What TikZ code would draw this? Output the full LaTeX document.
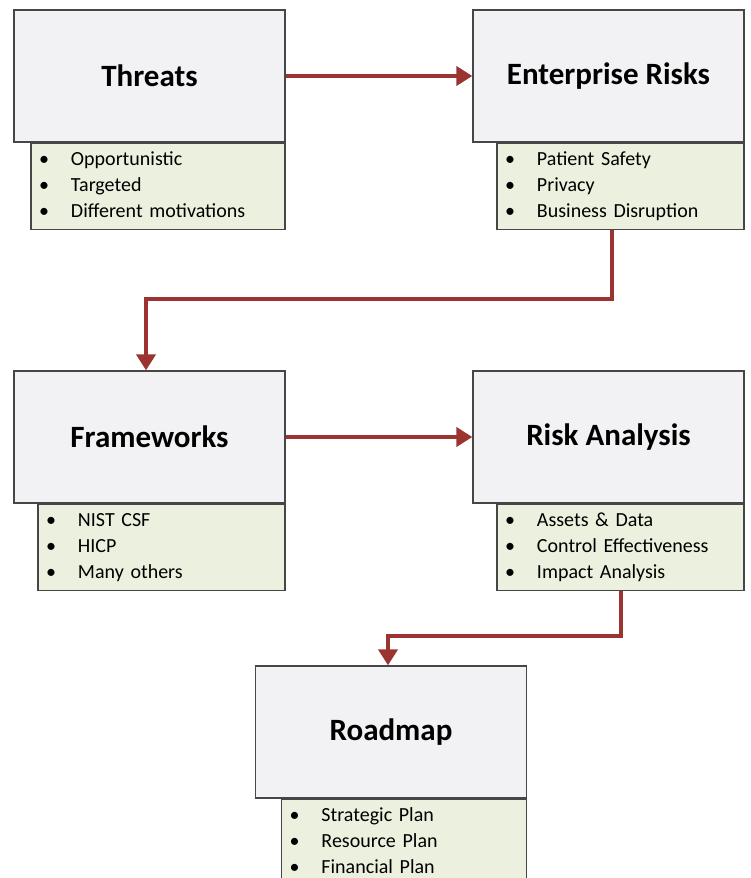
\documentclass[tikz,border=0pt]{standalone}
\usepackage{fontspec}
\setmainfont{Carlito}
\usepackage{xcolor}
\usetikzlibrary{arrows.meta,positioning}

\definecolor{boxgray}{RGB}{242,242,245}
\definecolor{listgreen}{RGB}{235,241,222}
\definecolor{edgegray}{RGB}{70,70,70}
\definecolor{flowred}{RGB}{155,52,48}

\tikzset{
  titlebox/.style={draw=edgegray, line width=1.3pt, fill=boxgray,
    minimum width=271pt, minimum height=132pt, inner sep=0pt,
    font=\fontsize{31}{36}\selectfont\bfseries},
  listbox/.style={draw=edgegray, line width=1.3pt, fill=listgreen,
    minimum height=86pt, inner xsep=8pt, inner ysep=0pt, anchor=north east,
    text width=231pt, align=left, font=\fontsize{20}{26}\selectfont},
  flow/.style={draw=flowred, line width=4pt, -{Triangle[length=16pt,width=19pt]}}
}

\newcommand{\itemlist}[3]{\begin{tabular}{@{}p{32pt}@{}l@{}}
  \textbullet & #1\\ \textbullet & #2\\ \textbullet & #3\end{tabular}}

\begin{document}
\begin{tikzpicture}[x=1pt,y=-1pt]
    \useasboundingbox (0,0) rectangle (751,878);

    % Threats
    \node[titlebox] (threats) at (149.5,76) {Threats};
    \node[listbox, text width=238pt] (threatslist) at (threats.south east)
      {\itemlist{Opportunistic}{Targeted}{Different motivations}};

    % Enterprise Risks
    \node[titlebox] (risks) at (608.5,76) {Enterprise Risks};
    \node[listbox] (riskslist) at (risks.south east)
      {\itemlist{Patient Safety}{Privacy}{Business Disruption}};

    % Frameworks
    \node[titlebox] (frameworks) at (149.5,437) {Frameworks};
    \node[listbox] (frameworkslist) at (frameworks.south east)
      {\itemlist{NIST CSF}{HICP}{Many others}};

    % Risk Analysis
    \node[titlebox] (analysis) at (608.5,437) {Risk Analysis};
    \node[listbox] (analysislist) at (analysis.south east)
      {\itemlist{Assets \& Data}{Control Effectiveness}{Impact Analysis}};

    % Roadmap
    \node[titlebox] (roadmap) at (391,732) {Roadmap};
    \node[listbox, text width=229pt] (roadmaplist) at (roadmap.south east)
      {\itemlist{Strategic Plan}{Resource Plan}{Financial Plan}};

    % Flow
    \draw[flow] (threats.east) -- (risks.west);
    \draw[flow] ([xshift=-8.5pt]riskslist.south) -- ++(0,69) -| ([xshift=-3.5pt]frameworks.north);
    \draw[flow] (frameworks.east) -- (analysis.west);
    \draw[flow] (analysislist.south) -- ++(0,45) -| ([xshift=-3pt]roadmap.north);
\end{tikzpicture}
\end{document}
